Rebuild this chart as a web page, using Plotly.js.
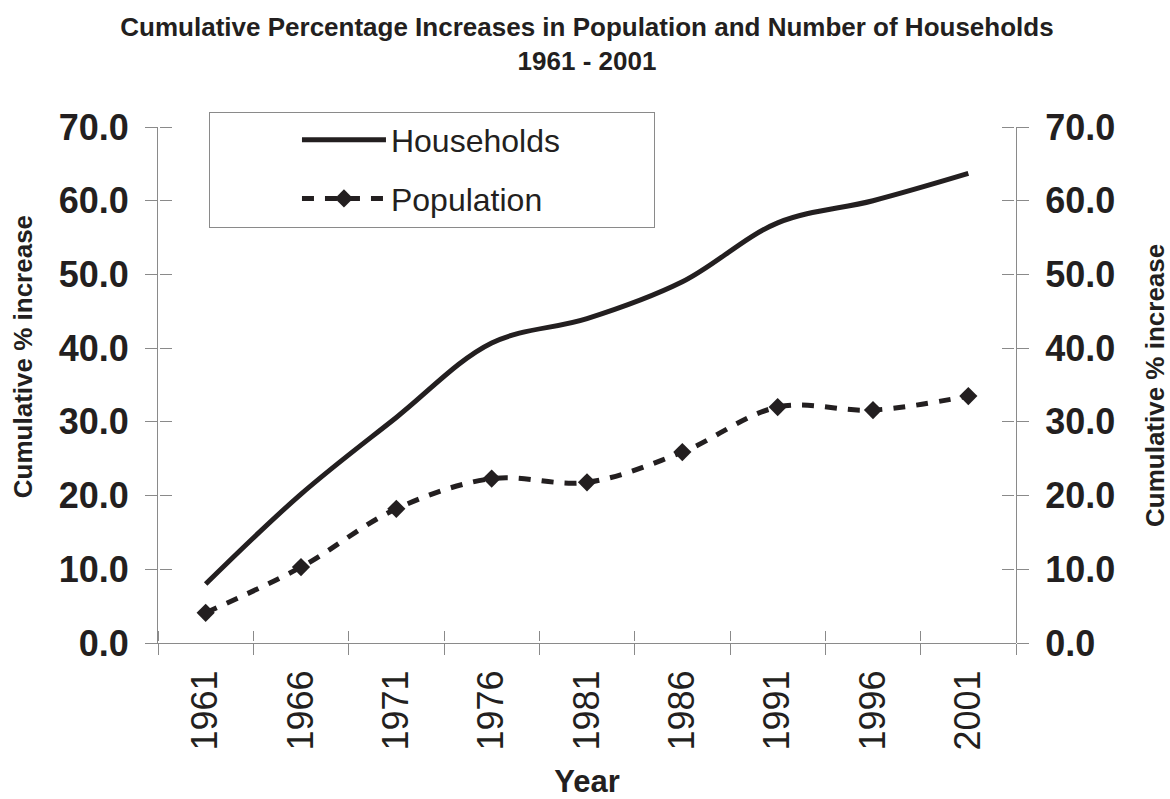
<!DOCTYPE html>
<html>
<head>
<meta charset="utf-8">
<script src="https://cdn.plot.ly/plotly-3.0.1.min.js"></script>
<style>
  html, body { margin: 0; padding: 0; background: #fff; }
  #chart { width: 1170px; height: 799px; }
</style>
</head>
<body>
<div id="chart"></div>
<script>
// Census years and cumulative % increases since 1951
const years = ['1961', '1966', '1971', '1976', '1981', '1986', '1991', '1996', '2001'];
const households = [8.0, 20.2, 30.6, 40.7, 44.0, 49.0, 57.0, 60.0, 63.7];
const population = [4.1, 10.3, 18.2, 22.3, 21.8, 25.9, 32.0, 31.6, 33.5];

const INK = '#231f20';
const AXIS = '#8a8a8a';
const FONT = 'Arial, "Liberation Sans", sans-serif';
const NBSP = '\u00a0'.repeat(10);
const Y_TITLE = 'Cumulative % increase';
const X_RANGE = [-0.5, 8.5];
const Y_RANGE = [0, 70];
const THIN = 0.001;

const traces = [
  {
    x: years, y: households, name: 'Households' + NBSP, legendgroup: 'h',
    type: 'scatter', mode: 'lines',
    line: { color: INK, width: 5, shape: 'spline', smoothing: 1 },
    hoverinfo: 'skip'
  },
  {
    x: years, y: population, name: 'Population' + NBSP, legendgroup: 'p',
    type: 'scatter', mode: 'lines+markers',
    line: { color: INK, width: 5, shape: 'spline', smoothing: 1, dash: '12px,11px' },
    marker: { symbol: 'diamond', size: 14, color: INK },
    hoverinfo: 'skip'
  }
];

// Transparent carriers for the helper frames that only draw ticks / right labels
[['x3', 'y5'], ['x4', 'y6'], ['x5', 'y7'], ['x6', 'y8']].forEach(([xa, ya]) => {
  traces.push({
    x: years, y: households, xaxis: xa, yaxis: ya,
    type: 'scatter', mode: 'lines', line: { width: 0, color: 'rgba(0,0,0,0)' },
    showlegend: false, hoverinfo: 'skip'
  });
});

const bare = { showgrid: false, zeroline: false, fixedrange: true };
const hidden = (extra) => Object.assign({}, bare, { visible: false }, extra);
const yTicks = Object.assign({}, bare, {
  range: Y_RANGE, dtick: 10, tick0: 0, tickformat: '.1f',
  ticks: 'outside', ticklen: 12, tickwidth: 1, tickcolor: AXIS
});
const yLabelFont = { family: FONT, size: 36, color: INK, weight: 'bold' };

const layout = {
  width: 1170, height: 799,
  // helper frames share the plot area, so plot areas stay see-through
  paper_bgcolor: '#fff', plot_bgcolor: 'rgba(0,0,0,0)',
  margin: { l: 158, r: 154, t: 127, b: 156 },
  font: { family: FONT, color: INK },
  title: {
    text: 'Cumulative Percentage Increases in Population and Number of Households<br>1961 - 2001',
    font: { family: FONT, size: 26, color: INK, weight: 'bold' },
    x: 0.5, xref: 'paper', xanchor: 'center',
    y: 0.955, yref: 'container', yanchor: 'middle'
  },
  // main frame: outward ticks, labels
  xaxis: Object.assign({}, bare, {
    type: 'category', range: X_RANGE, tickson: 'boundaries',
    ticks: 'outside', ticklen: 11, tickwidth: 1, tickcolor: AXIS,
    showline: true, linecolor: AXIS, linewidth: 1,
    tickangle: -90, tickfont: { family: FONT, size: 36, color: INK },
    ticklabelstandoff: 12,
    title: { text: 'Year', font: { family: FONT, size: 31, color: INK, weight: 'bold' }, standoff: 38 }
  }),
  yaxis: Object.assign({}, yTicks, {
    side: 'left',
    showline: true, linecolor: AXIS, linewidth: 1,
    tickfont: yLabelFont, ticklabelstandoff: 9
  }),
  // bottom edge: a top-side axis on a flat frame, so its ticks point up into the plot
  xaxis3: Object.assign({}, bare, {
    type: 'category', range: X_RANGE, tickson: 'boundaries', anchor: 'y5', side: 'top',
    ticks: 'outside', ticklen: 10, tickwidth: 1, tickcolor: AXIS,
    showticklabels: false, showline: false
  }),
  yaxis5: hidden({ domain: [0, THIN], anchor: 'x3' }),
  // right-hand axis line, outward ticks and labels
  xaxis4: hidden({ type: 'category', range: X_RANGE, anchor: 'y6' }),
  yaxis6: Object.assign({}, yTicks, {
    anchor: 'x4', side: 'right',
    showline: true, linecolor: AXIS, linewidth: 1,
    tickfont: yLabelFont, ticklabelstandoff: 9
  }),
  // left edge: right-side axis on a thin frame, ticks point into the plot
  xaxis5: hidden({ domain: [0, THIN], anchor: 'y7' }),
  yaxis7: Object.assign({}, yTicks, { anchor: 'x5', side: 'right', showticklabels: false, showline: false }),
  // right edge: left-side axis on a thin frame, ticks point into the plot
  xaxis6: hidden({ domain: [1 - THIN, 1], anchor: 'y8' }),
  yaxis8: Object.assign({}, yTicks, { anchor: 'x6', side: 'left', showticklabels: false, showline: false }),
  annotations: [
    {
      text: Y_TITLE, textangle: -90, showarrow: false,
      xref: 'paper', yref: 'paper', x: -0.1573, y: 0.554,
      xanchor: 'center', yanchor: 'middle',
      font: { family: FONT, size: 26, color: INK, weight: 'bold' }
    },
    {
      text: Y_TITLE, textangle: -90, showarrow: false,
      xref: 'paper', yref: 'paper', x: 1.162, y: 0.5,
      xanchor: 'center', yanchor: 'middle',
      font: { family: FONT, size: 26, color: INK, weight: 'bold' }
    }
  ],
  legend: {
    x: 0.0594, xanchor: 'left', y: 1.03, yanchor: 'top',
    bgcolor: '#fff', bordercolor: AXIS, borderwidth: 1,
    font: { family: FONT, size: 32, color: INK },
    indentation: 87, tracegroupgap: 14, itemwidth: 84
  },
  showlegend: true
};

Plotly.newPlot('chart', traces, layout, { staticPlot: true, displayModeBar: false });
</script>
</body>
</html>
